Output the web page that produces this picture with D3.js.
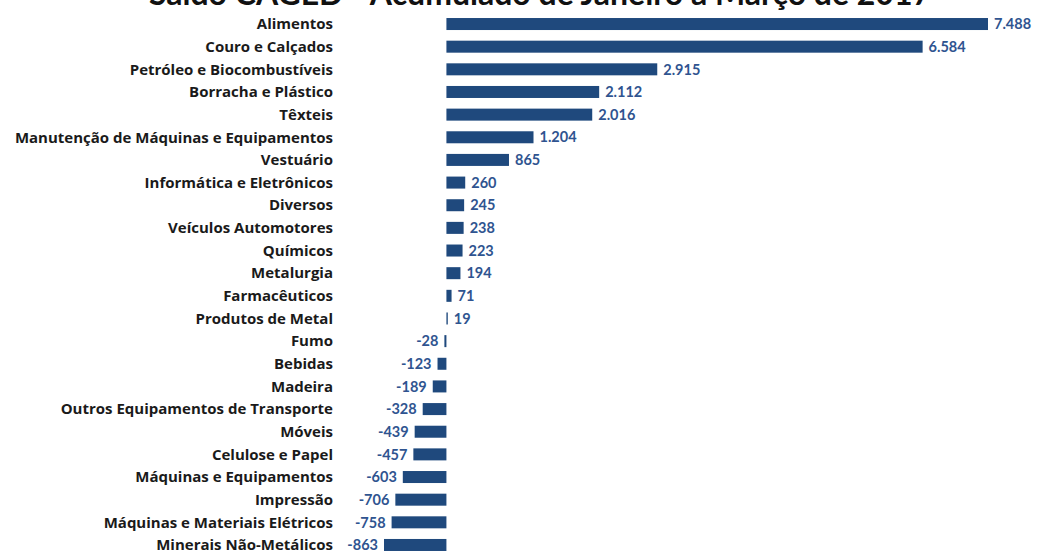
<!DOCTYPE html>
<html>
<head>
<meta charset="utf-8">
<script src="https://cdn.jsdelivr.net/npm/d3@7"></script>
<style>
  html, body { margin: 0; padding: 0; background: #fff; }
  svg { display: block; }
</style>
</head>
<body>
<svg id="chart" width="1048" height="554"></svg>
<script>
// Saldo de empregos por setor industrial, acumulado jan–mar
const categories = [
  "Alimentos", "Couro e Calçados", "Petróleo e Biocombustíveis", "Borracha e Plástico",
  "Têxteis", "Manutenção de Máquinas e Equipamentos", "Vestuário", "Informática e Eletrônicos",
  "Diversos", "Veículos Automotores", "Químicos", "Metalurgia", "Farmacêuticos",
  "Produtos de Metal", "Fumo", "Bebidas", "Madeira", "Outros Equipamentos de Transporte",
  "Móveis", "Celulose e Papel", "Máquinas e Equipamentos", "Impressão",
  "Máquinas e Materiais Elétricos", "Minerais Não-Metálicos"
];
const values = [
  7488, 6584, 2915, 2112, 2016, 1204, 865, 260, 245, 238, 223, 194, 71, 19,
  -28, -123, -189, -328, -439, -457, -603, -706, -758, -863
];
const title = "Saldo CAGED - Acumulado de Janeiro a Março de 2017";

// pt-BR style: dot as thousands separator, plain hyphen for negatives
const fmt = v => d3.format(",")(v).replace(/,/g, ".").replace("\u2212", "-");

const svg = d3.select("#chart");
const barColor = "#1f497d";
const labelColor = "#2f5490";

const x = d3.scaleLinear().domain([-863, 7488]).range([384, 988]);
const y = d3.scaleBand().domain(categories).range([12.7, 556.3]).paddingInner(0.47).paddingOuter(0.235);

// title runs off the top edge of the canvas
svg.append("text")
  .attr("x", 540).attr("y", 5)
  .attr("text-anchor", "middle")
  .attr("font-family", "Lato, 'Open Sans', sans-serif")
  .attr("font-weight", "bold")
  .attr("font-size", 32)
  .attr("fill", "#111")
  .text(title);

const rows = svg.append("g").selectAll("g")
  .data(categories.map((c, i) => ({ c, v: values[i] })))
  .join("g");

rows.append("rect")
  .attr("x", d => x(Math.min(0, d.v)))
  .attr("y", d => y(d.c))
  .attr("width", d => Math.max(1, Math.abs(x(d.v) - x(0))))
  .attr("height", y.bandwidth())
  .attr("fill", barColor);

// category names, right-aligned
rows.append("text")
  .attr("x", 333)
  .attr("y", d => y(d.c) + y.bandwidth() / 2)
  .attr("dy", "0.35em")
  .attr("text-anchor", "end")
  .attr("font-family", "'Open Sans', sans-serif")
  .attr("font-weight", "bold")
  .attr("font-size", 15)
  .attr("fill", "#1a1a1a")
  .text(d => d.c);

// value labels beside the bar end
rows.append("text")
  .attr("x", d => d.v >= 0 ? x(d.v) + 6 : x(d.v) - 6)
  .attr("y", d => y(d.c) + y.bandwidth() / 2)
  .attr("dy", "0.36em")
  .attr("text-anchor", d => d.v >= 0 ? "start" : "end")
  .attr("font-family", "Lato, sans-serif")
  .attr("font-weight", "bold")
  .attr("font-size", 14.5)
  .attr("fill", labelColor)
  .text(d => fmt(d.v));
</script>
</body>
</html>
